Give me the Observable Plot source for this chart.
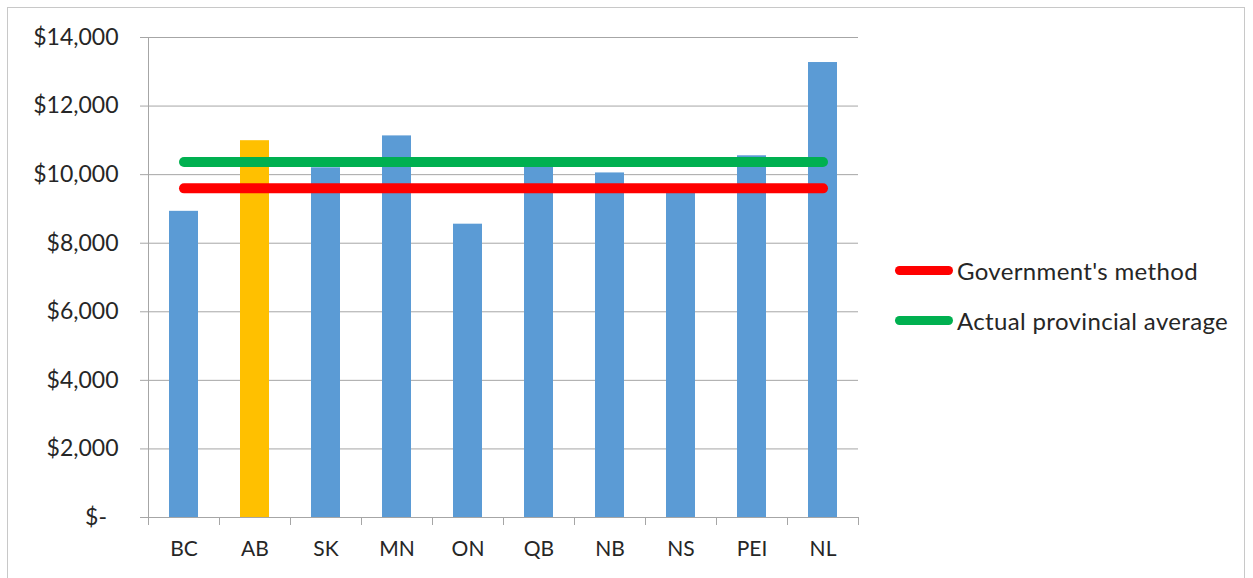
<!DOCTYPE html>
<html>
<head>
<meta charset="utf-8">
<script src="https://cdn.jsdelivr.net/npm/d3@7"></script>
<script src="https://cdn.jsdelivr.net/npm/@observablehq/plot@0.6"></script>
<style>
  html, body { margin: 0; padding: 0; background: #fff; }
  #wrap { position: relative; width: 1253px; height: 578px; overflow: hidden; font-family: Lato, "Liberation Sans", sans-serif; color: #262626; }
  #frame { position: absolute; left: 7px; top: 7px; width: 1238px; height: 600px; border: 1px solid #c8c8c8; box-sizing: border-box; }
  #chart { position: absolute; left: 0; top: 0; }
  #legend { position: absolute; left: 895px; top: 254px; font-size: 24px; letter-spacing: 0.35px; }
  .item { display: flex; align-items: center; height: 32px; margin-bottom: 18px; }
  .sw { width: 58px; height: 9px; border-radius: 5px; margin-right: 4px; }
</style>
</head>
<body>
<div id="wrap">
  <div id="frame"></div>
  <div id="chart"></div>
  <div id="legend"></div>
</div>
<script>
const provinces = ["BC", "AB", "SK", "MN", "ON", "QB", "NB", "NS", "PEI", "NL"];
const costs = [8930, 10990, 10200, 11130, 8555, 10320, 10050, 9620, 10550, 13270];
const highlight = "AB";
const seriesNames = ["Government's method", "Actual provincial average"];
const seriesLevels = [9600, 10370];
const seriesColors = ["#ff0000", "#00b050"];
const yTicks = [0, 2000, 4000, 6000, 8000, 10000, 12000, 14000];

const bars = provinces.map((p, i) => ({province: p, cost: costs[i]}));
const lines = [];
seriesNames.forEach((s, j) => provinces.forEach(p => lines.push({series: s, province: p, level: seriesLevels[j]})));

const W = 1253, H = 578;
const mL = 148, mR = 395, mT = 37, mB = 61;
const bw = (W - mL - mR) / provinces.length;
const fmt = v => v === 0 ? "$-\u2002" : "$" + d3.format(",")(v);

const chart = Plot.plot({
  width: W, height: H,
  marginLeft: mL, marginRight: mR, marginTop: mT, marginBottom: mB,
  style: {fontFamily: "Lato, 'Liberation Sans', sans-serif", fontSize: "22px", color: "#262626", background: "transparent"},
  x: {domain: provinces, padding: 0},
  y: {domain: [0, 14000]},
  color: {domain: seriesNames, range: seriesColors},
  marks: [
    Plot.gridY(yTicks, {stroke: "#a6a6a6", strokeOpacity: 1, strokeWidth: 1}),
    Plot.ruleX([provinces[0]], {stroke: "#a6a6a6", strokeWidth: 1, dx: -bw / 2}),
    Plot.axisY(yTicks, {tickSize: 8, tickPadding: 22, tickFormat: fmt, stroke: "#a6a6a6", label: null, fontSize: 23}),
    Plot.barY(bars, {x: "province", y: "cost", fill: d => d.province === highlight ? "#ffc000" : "#5b9bd5", insetLeft: 21, insetRight: 21}),
    Plot.ruleY([0], {stroke: "#a6a6a6", strokeWidth: 1}),
    Plot.axisX({tickSize: 8, text: null, dx: -bw / 2, stroke: "#a6a6a6", label: null}),
    Plot.axisX({tickSize: 8, text: null, dx: bw / 2, stroke: "#a6a6a6", label: null}),
    Plot.axisX({tickSize: 0, tickPadding: 24, label: null, fontSize: 21}),
    Plot.lineY(lines, {x: "province", y: "level", z: "series", stroke: "series", strokeWidth: 10, strokeLinecap: "round"})
  ]
});
document.getElementById("chart").appendChild(chart);

const legend = document.getElementById("legend");
seriesNames.forEach((s, j) => {
  const it = document.createElement("div");
  it.className = "item";
  const sw = document.createElement("div");
  sw.className = "sw";
  sw.style.background = seriesColors[j];
  const t = document.createElement("span");
  t.textContent = s;
  it.appendChild(sw); it.appendChild(t);
  legend.appendChild(it);
});
</script>
</body>
</html>
